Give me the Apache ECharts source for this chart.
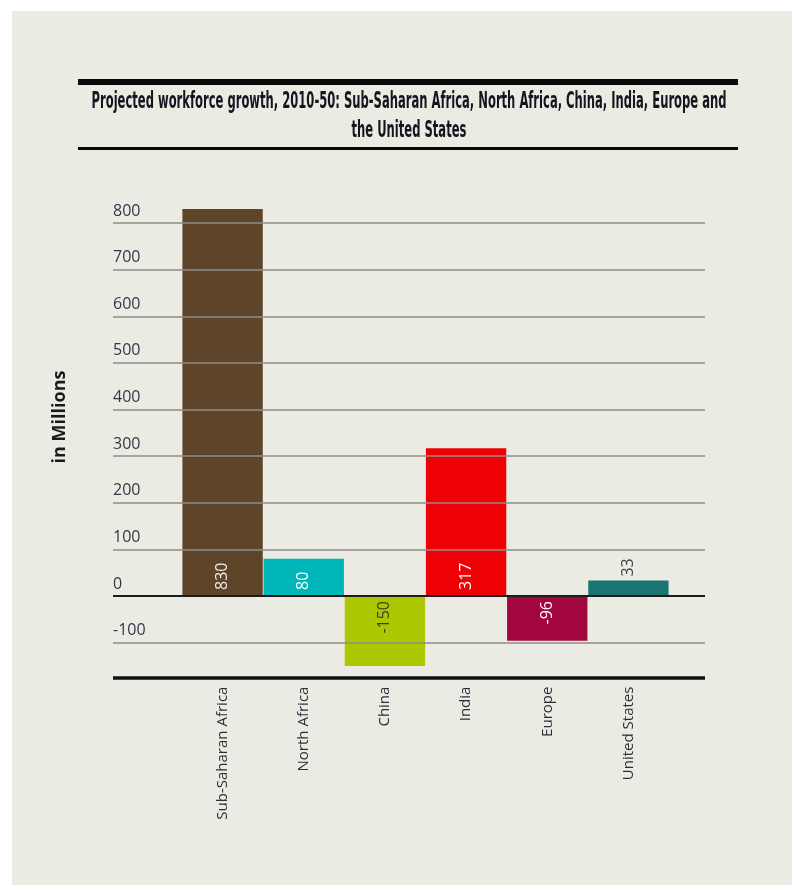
<!DOCTYPE html>
<html>
<head>
<meta charset="utf-8">
<script src="https://cdn.jsdelivr.net/npm/echarts@6/dist/echarts.min.js"></script>
<style>
  html, body { margin: 0; padding: 0; background: #ffffff; }
  #bg { position: absolute; left: 12px; top: 11px; right: 0; bottom: 0; background: #ecebe3; }
  #chart { position: absolute; left: 0; top: 0; width: 792px; height: 885px; }
</style>
</head>
<body>
<div id="bg"></div>
<div id="chart"></div>
<script>
const titleLines = [
  'Projected workforce growth, 2010-50: Sub-Saharan Africa, North Africa, China, India, Europe and',
  'the United States'
];
const yAxisTitle = 'in Millions';
const categories = ['Sub-Saharan Africa', 'North Africa', 'China', 'India', 'Europe', 'United States'];
const values = [830, 80, -150, 317, -96, 33];
const gridTicks = [-100, 100, 200, 300, 400, 500, 600, 700, 800];
const zeroTick = 0;
const yMin = -175;
const yMax = 800;

const barColors = ['#5e4529', '#00b6b9', '#adc700', '#ee0005', '#a1063f', '#1b7573'];
const labelColors = ['#f4ebea', '#ffffff', '#3d3d2a', '#ffffff', '#ffffff', '#444444'];

const titleFont = 'bold 23px "Liberation Sans Narrow", "DejaVu Sans Condensed", sans-serif';
const cv = document.createElement('canvas').getContext('2d');
cv.font = titleFont;
const sx = 635 / cv.measureText(titleLines[0]).width;

const chart = echarts.init(document.getElementById('chart'), null, { renderer: 'canvas' });

const barData = values.map((v, i) => {
  const outside = Math.abs(v) < 50;
  let label;
  if (outside) {
    label = { show: true, position: 'top', rotate: 90, align: 'left', verticalAlign: 'middle', distance: 4, color: labelColors[i] };
  } else if (v >= 0) {
    label = { show: true, position: 'insideBottom', rotate: 90, align: 'left', verticalAlign: 'middle', distance: 6, color: labelColors[i] };
  } else {
    label = { show: true, position: 'insideTop', rotate: 90, align: 'right', verticalAlign: 'middle', distance: 5, color: labelColors[i] };
  }
  return { value: v, itemStyle: { color: barColors[i] }, label };
});

const option = {
  backgroundColor: 'transparent',
  animation: false,
  graphic: [
    { type: 'rect', shape: { x: 78, y: 79, width: 660, height: 6 }, style: { fill: '#0a0a0a' } },
    { type: 'rect', shape: { x: 78, y: 147, width: 660, height: 3 }, style: { fill: '#0a0a0a' } },
    { type: 'text', x: 409, y: 102, scaleX: sx,
      style: { text: titleLines[0], font: titleFont, fill: '#15151f', align: 'center', verticalAlign: 'middle' } },
    { type: 'text', x: 409, y: 131, scaleX: sx,
      style: { text: titleLines[1], font: titleFont, fill: '#15151f', align: 'center', verticalAlign: 'middle' } },
    { type: 'text', x: 60, y: 417, rotation: Math.PI / 2,
      style: { text: yAxisTitle, font: 'bold 18px "Open Sans", sans-serif', fill: '#1a1a1a', align: 'center', verticalAlign: 'middle' } }
  ],
  grid: [
    { left: 113, right: 87, top: 223, bottom: 207.4 },
    { left: 182, right: 123, top: 223, bottom: 207.4 }
  ],
  xAxis: [
    { gridIndex: 0, type: 'value', min: 0, max: 1, position: 'bottom',
      axisLine: { show: true, onZero: false, lineStyle: { color: '#111111', width: 3.5, cap: 'butt' } },
      axisTick: { show: false }, axisLabel: { show: false }, splitLine: { show: false } },
    { gridIndex: 1, type: 'category', data: categories, position: 'bottom',
      axisLine: { show: false, onZero: false }, axisTick: { show: false }, splitLine: { show: false },
      axisLabel: { rotate: 90, margin: 9, interval: 0, color: '#2e2e36', fontSize: 15, fontFamily: '"Open Sans", sans-serif' } }
  ],
  yAxis: [
    { gridIndex: 0, type: 'value', min: yMin, max: yMax, interval: 25,
      axisLine: { show: false }, axisTick: { show: false }, splitLine: { show: false },
      axisLabel: { inside: true, margin: 0, align: 'left', verticalAlign: 'bottom', padding: [0, 0, 4, 0],
        color: '#363646', fontSize: 16, fontFamily: '"Open Sans", sans-serif',
        formatter: v => (v % 100 === 0 ? String(v) : '') } },
    { gridIndex: 1, type: 'value', min: yMin, max: yMax, show: false, splitLine: { show: false } }
  ],
  series: [
    { type: 'line', xAxisIndex: 0, yAxisIndex: 0, data: [], silent: true,
      markLine: { silent: true, symbol: 'none', animation: false, label: { show: false },
        data: gridTicks.map(v => ({ yAxis: v, lineStyle: { color: '#8e8e8a', width: 1.5, type: 'solid' } }))
          .concat([{ yAxis: zeroTick, lineStyle: { color: '#1c1c1c', width: 2, type: 'solid' } }]) } },
    { type: 'bar', xAxisIndex: 1, yAxisIndex: 1, data: barData, barCategoryGap: '1%', clip: false,
      label: { fontSize: 16, fontFamily: '"Open Sans", sans-serif' } }
  ]
};
chart.setOption(option);
</script>
</body>
</html>
